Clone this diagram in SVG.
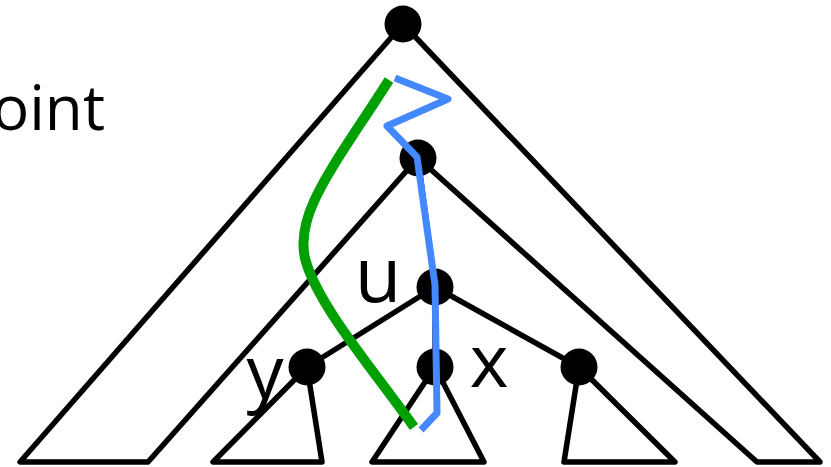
<svg xmlns="http://www.w3.org/2000/svg" width="831" height="467" viewBox="0 0 831 467">
<style>
.e{fill:none;stroke:#000;stroke-width:5.5;stroke-linejoin:round;stroke-linecap:round}
.n{fill:#000}
.lbl{font-family:"Open Sans","DejaVu Sans",sans-serif;fill:#000}
</style>
<rect width="831" height="467" fill="#fff"/>
<text class="lbl" x="105" y="130" font-size="62" text-anchor="end">oint</text>
<g id="connectors">
<path class="e" d="M403,24 L20,462 L148,462 L418,158 L757,462 L820,462 Z"/>
<path class="e" d="M418,158 L435,287"/>
<path class="e" d="M435,287 L307,367"/>
<path class="e" d="M435,287 L435,367"/>
<path class="e" d="M435,287 L579,367"/>
<path class="e" d="M307,367 L213,462 L322,462 Z"/>
<path class="e" d="M435,367 L372,462 L484,462 Z"/>
<path class="e" d="M579,367 L564,462 L675,462 Z"/>
</g>
<g id="root"><circle class="n" cx="403" cy="24" r="18.5"/></g>
<g id="v"><circle class="n" cx="418" cy="158" r="18.5"/></g>
<g id="u"><circle class="n" cx="435" cy="287" r="18.5"/><text class="lbl" x="378" y="302" font-size="76" text-anchor="middle">u</text></g>
<g id="y"><circle class="n" cx="307" cy="367" r="18.5"/><text class="lbl" x="265" y="398" font-size="74" text-anchor="middle">y</text></g>
<g id="x"><circle class="n" cx="435" cy="367" r="18.5"/><text class="lbl" x="489" y="387" font-size="74" text-anchor="middle">x</text></g>
<g id="w"><circle class="n" cx="579" cy="367" r="18.5"/></g>
<g id="paths">
<path d="M389,80 C335,165 292,215 306,262 C320,308 372,368 414,427" fill="none" stroke="#00a000" stroke-width="10"/>
<path d="M395,78 L448,99 L387,126 L417,157 L435,285 L437,413 L421,430" fill="none" stroke="#4488ff" stroke-width="7" stroke-linejoin="round"/>
</g>
</svg>
